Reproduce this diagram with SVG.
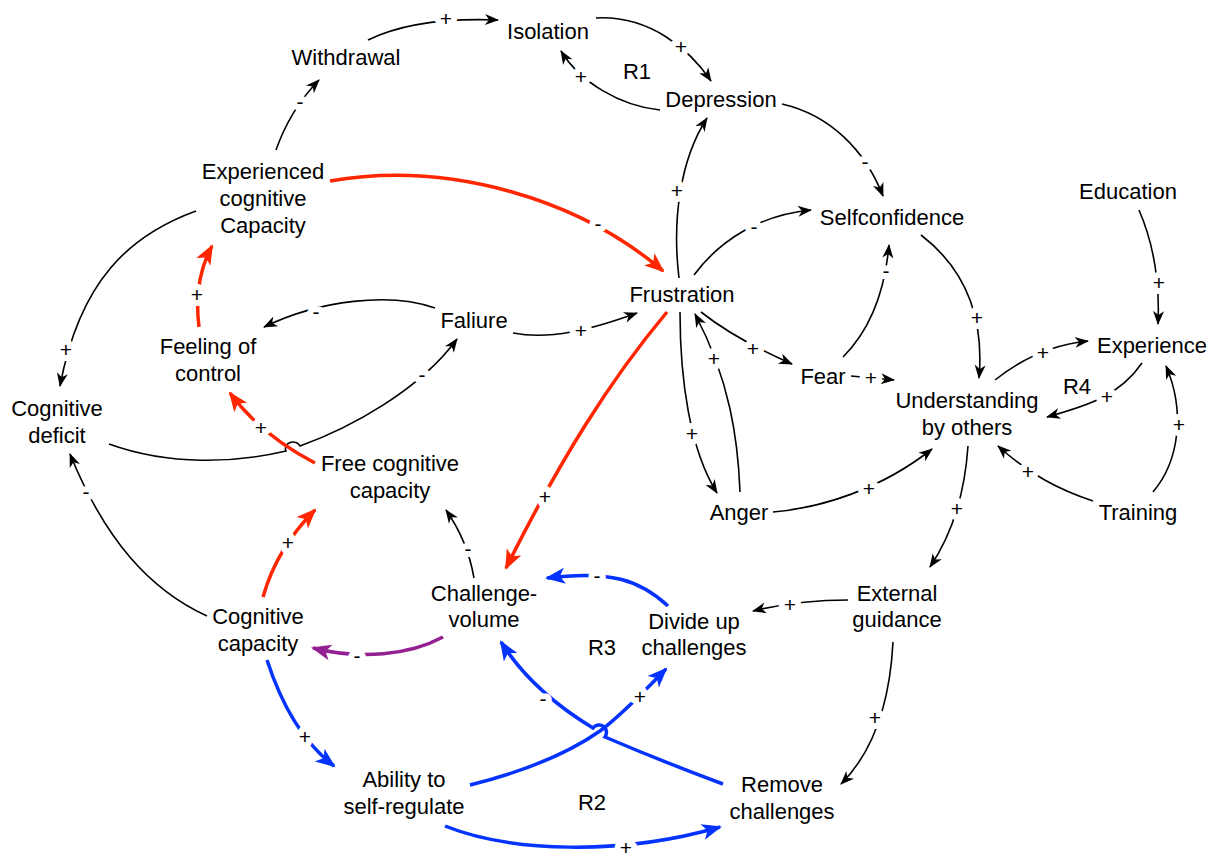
<svg xmlns="http://www.w3.org/2000/svg" width="1218" height="860" viewBox="0 0 1218 860">
<style>
.t{font-family:"Liberation Sans",Arial,sans-serif;font-size:22px;fill:#000;text-anchor:middle}
.l{font-family:"Liberation Sans",Arial,sans-serif;font-size:21px;fill:#000;text-anchor:middle;stroke:#fff;stroke-width:12;stroke-linejoin:round;paint-order:stroke}
.k{fill:none;stroke:#000;stroke-width:1.6;marker-end:url(#mk)}
.r{fill:none;stroke:#FF2600;stroke-width:3.5;marker-end:url(#mr)}
.b{fill:none;stroke:#0433FF;stroke-width:3.5;marker-end:url(#mb)}
.p{fill:none;stroke:#942192;stroke-width:3.5;marker-end:url(#mp)}
</style>
<defs>
<marker id="mk" markerUnits="userSpaceOnUse" markerWidth="16" markerHeight="14" viewBox="-14 -7 16 14" refX="0" refY="0" orient="auto"><path d="M1,0 L-13,-5.5 L-9,0 L-13,5.5 Z" fill="#000"/></marker>
<marker id="mr" markerUnits="userSpaceOnUse" markerWidth="22" markerHeight="18" viewBox="-19 -9 22 18" refX="0" refY="0" orient="auto"><path d="M2,0 L-18,-8 L-13,0 L-18,8 Z" fill="#FF2600"/></marker>
<marker id="mb" markerUnits="userSpaceOnUse" markerWidth="22" markerHeight="18" viewBox="-19 -9 22 18" refX="0" refY="0" orient="auto"><path d="M2,0 L-18,-8 L-13,0 L-18,8 Z" fill="#0433FF"/></marker>
<marker id="mp" markerUnits="userSpaceOnUse" markerWidth="22" markerHeight="18" viewBox="-19 -9 22 18" refX="0" refY="0" orient="auto"><path d="M2,0 L-18,-8 L-13,0 L-18,8 Z" fill="#942192"/></marker>
</defs>
<rect width="1218" height="860" fill="#fff"/>
<g id="connectors">
<path class="k" d="M368,40 Q415,17 498,20"/>
<path class="k" d="M596,18 C650,15 690,50 711,81"/>
<path class="k" d="M660,110 C620,106 580,82 561,51"/>
<path class="k" d="M276,150 Q290,110 319,80"/>
<path class="k" d="M782,104 C830,115 865,150 883,196"/>
<path class="k" d="M679,278 C672,220 680,160 707,118"/>
<path class="k" d="M694,275 C720,240 760,215 811,210"/>
<path class="r" d="M330,181 C450,160 580,200 663,271"/>
<path class="r" d="M667,312 C610,380 560,460 506,568"/>
<path class="k" d="M513,333 C550,340 590,330 637,313"/>
<path class="k" d="M435,308 C390,292 320,300 264,327"/>
<path class="k" d="M109,444 C170,466 235,463 286,451 A7,6 0 0 1 300,446 C350,428 420,390 457,339"/>
<path class="k" d="M196,211 C130,235 80,280 60,386"/>
<path class="r" d="M199,327 C195,295 200,268 212,246"/>
<path class="r" d="M315,463 C280,445 250,420 230,393"/>
<path class="k" d="M207,616 C150,590 105,540 70,454"/>
<path class="r" d="M263,597 C272,565 290,535 315,510"/>
<path class="k" d="M474,578 C470,555 460,530 446,510"/>
<path class="p" d="M443,637 C410,655 360,660 313,648"/>
<path class="b" d="M267,660 C280,700 300,740 334,766"/>
<path class="b" d="M470,785 C530,770 570,752 600,731 C625,712 645,690 666,669"/>
<path class="b" d="M723,784 C680,768 640,752 605,737 A6,6 0 0 0 593,728 C560,708 525,680 501,642"/>
<path class="b" d="M668,606 C640,580 610,570 547,578"/>
<path class="b" d="M445,826 C510,852 620,856 720,827"/>
<path class="k" d="M848,600 C820,600 790,602 753,611"/>
<path class="k" d="M893,642 C890,700 875,750 841,784"/>
<path class="k" d="M968,446 C965,490 955,530 930,567"/>
<path class="k" d="M773,512 C820,508 880,490 932,449"/>
<path class="k" d="M680,312 C680,380 690,450 717,493"/>
<path class="k" d="M740,492 C738,440 730,380 695,314"/>
<path class="k" d="M701,312 C730,335 760,350 792,364"/>
<path class="k" d="M843,357 C870,330 885,290 889,245"/>
<path class="k" d="M851,376 L894,380"/>
<path class="k" d="M921,235 C960,265 985,310 979,378"/>
<path class="k" d="M1139,210 C1152,240 1160,280 1158,324"/>
<path class="k" d="M995,380 C1020,360 1050,345 1088,341"/>
<path class="k" d="M1142,363 C1120,395 1090,405 1047,417"/>
<path class="k" d="M1093,501 C1060,490 1030,475 998,446"/>
<path class="k" d="M1153,492 C1180,460 1185,410 1166,366"/>
<text class="l" x="446" y="26">+</text>
<text class="l" x="681" y="54">+</text>
<text class="l" x="581" y="84">+</text>
<text class="l" x="300" y="109">-</text>
<text class="l" x="865" y="169">-</text>
<text class="l" x="677" y="198">+</text>
<text class="l" x="754" y="234">-</text>
<text class="l" x="598" y="231">-</text>
<text class="l" x="545" y="504">+</text>
<text class="l" x="581" y="338">+</text>
<text class="l" x="316" y="319">-</text>
<text class="l" x="422" y="382">-</text>
<text class="l" x="66" y="357">+</text>
<text class="l" x="197" y="302">+</text>
<text class="l" x="261" y="435">+</text>
<text class="l" x="86" y="499">-</text>
<text class="l" x="288" y="550">+</text>
<text class="l" x="468" y="556">-</text>
<text class="l" x="357" y="663">-</text>
<text class="l" x="305" y="744">+</text>
<text class="l" x="640" y="704">+</text>
<text class="l" x="543" y="706">-</text>
<text class="l" x="597" y="583">-</text>
<text class="l" x="626" y="855">+</text>
<text class="l" x="790" y="612">+</text>
<text class="l" x="875" y="725">+</text>
<text class="l" x="957" y="516">+</text>
<text class="l" x="869" y="496">+</text>
<text class="l" x="692" y="441">+</text>
<text class="l" x="714" y="366">+</text>
<text class="l" x="753" y="356">+</text>
<text class="l" x="886" y="278">-</text>
<text class="l" x="871" y="385">+</text>
<text class="l" x="977" y="325">+</text>
<text class="l" x="1159" y="290">+</text>
<text class="l" x="1043" y="360">+</text>
<text class="l" x="1107" y="404">+</text>
<text class="l" x="1028" y="479">+</text>
<text class="l" x="1179" y="432">+</text>
</g>
<g id="withdrawal"><text class="t" x="346" y="65">Withdrawal</text></g>
<g id="isolation"><text class="t" x="548" y="39">Isolation</text></g>
<g id="r1"><text class="t" x="637" y="79">R1</text></g>
<g id="depression"><text class="t" x="721" y="107">Depression</text></g>
<g id="experienced-cognitive-capacity"><text class="t" x="263" y="179">Experienced<tspan x="263" dy="27">cognitive</tspan><tspan x="263" dy="27">Capacity</tspan></text></g>
<g id="selfconfidence"><text class="t" x="892" y="225">Selfconfidence</text></g>
<g id="education"><text class="t" x="1128" y="199">Education</text></g>
<g id="frustration"><text class="t" x="682" y="302">Frustration</text></g>
<g id="faliure"><text class="t" x="474" y="328">Faliure</text></g>
<g id="feeling-of-control"><text class="t" x="208" y="354">Feeling of<tspan x="208" dy="27">control</tspan></text></g>
<g id="cognitive-deficit"><text class="t" x="57" y="416">Cognitive<tspan x="57" dy="27">deficit</tspan></text></g>
<g id="experience"><text class="t" x="1152" y="353">Experience</text></g>
<g id="r4"><text class="t" x="1077" y="394">R4</text></g>
<g id="fear"><text class="t" x="823" y="384">Fear</text></g>
<g id="understanding-by-others"><text class="t" x="967" y="408">Understanding<tspan x="967" dy="27">by others</tspan></text></g>
<g id="free-cognitive-capacity"><text class="t" x="390" y="471">Free cognitive<tspan x="390" dy="27">capacity</tspan></text></g>
<g id="anger"><text class="t" x="739" y="520">Anger</text></g>
<g id="training"><text class="t" x="1138" y="520">Training</text></g>
<g id="challenge-volume"><text class="t" x="484" y="601">Challenge-<tspan x="484" dy="26">volume</tspan></text></g>
<g id="divide-up-challenges"><text class="t" x="694" y="629">Divide up<tspan x="694" dy="26">challenges</tspan></text></g>
<g id="r3"><text class="t" x="602" y="655">R3</text></g>
<g id="external-guidance"><text class="t" x="897" y="601">External<tspan x="897" dy="26">guidance</tspan></text></g>
<g id="cognitive-capacity"><text class="t" x="258" y="624">Cognitive<tspan x="258" dy="27">capacity</tspan></text></g>
<g id="ability-to-self-regulate"><text class="t" x="404" y="787">Ability to<tspan x="404" dy="27">self-regulate</tspan></text></g>
<g id="r2"><text class="t" x="592" y="810">R2</text></g>
<g id="remove-challenges"><text class="t" x="782" y="792">Remove<tspan x="782" dy="27">challenges</tspan></text></g>
</svg>
